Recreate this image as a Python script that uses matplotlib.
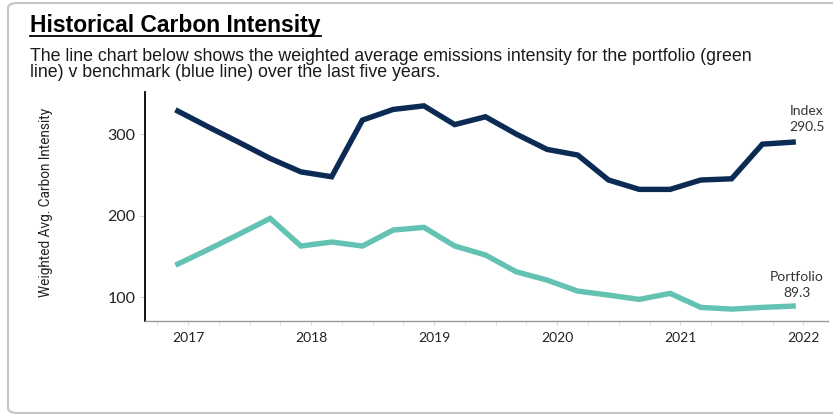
import numpy as np
import matplotlib
matplotlib.use('Agg')
from matplotlib import pyplot as plt
from matplotlib.patches import FancyBboxPatch

# 분기별 데이터 (2016년 12월 ~ 2021년 12월)
quarters = ['2016-12', '2017-03', '2017-06', '2017-09', '2017-12',
            '2018-03', '2018-06', '2018-09', '2018-12', '2019-03',
            '2019-06', '2019-09', '2019-12', '2020-03', '2020-06',
            '2020-09', '2020-12', '2021-03', '2021-06', '2021-09',
            '2021-12']
index_vals = [328.6, 309.0, 290.0, 270.5, 254.0, 248.0, 317.5, 330.6,
              335.0, 312.0, 321.6, 300.4, 281.6, 274.6, 244.0, 232.5,
              232.5, 244.0, 245.5, 288.0, 290.5]
portfolio_vals = [140.9, 158.9, 177.7, 196.9, 163.0, 167.9, 163.0, 182.6,
                  185.9, 163.0, 152.0, 131.4, 121.2, 107.7, 102.8, 97.5,
                  104.9, 87.7, 85.6, 87.7, 89.3]
year_ticks = [2017, 2018, 2019, 2020, 2021, 2022]
y_ticks = [100, 200, 300]

title = 'Historical Carbon Intensity'
subtitle = ('The line chart below shows the weighted average emissions intensity for the portfolio (green\n'
            'line) v benchmark (blue line) over the last five years.')


def to_year(s):
    y, m = s.split('-')
    return int(y) + (int(m) - 1) / 12


x = np.array([to_year(q) for q in quarters])

fig = plt.figure(figsize=(8.33, 4.16), dpi=100)
renderer = fig.canvas.get_renderer()

# 테두리 박스
box = FancyBboxPatch((8 / 833, 3 / 416), 1.0, 410 / 416,
                     boxstyle='round,pad=0,rounding_size=0.012',
                     transform=fig.transFigure, facecolor='white',
                     edgecolor='#c4c4c4', linewidth=1.5, clip_on=False, zorder=-10)
fig.patches.append(box)

t = fig.text(30 / 833, 1 - 32 / 416, title, fontsize=16.5, fontweight='bold',
             family='Liberation Sans', color='black', va='baseline')
bb = t.get_window_extent(renderer)
fig.add_artist(plt.Line2D([30 / 833, bb.x1 / 833], [1 - 35.5 / 416, 1 - 35.5 / 416],
                          color='black', lw=1.3, transform=fig.transFigure))

# 부제목: 두 줄 간격을 약 14.7px로 맞춤
sub_size = 12.8
sub = fig.text(30 / 833, 1 - 76.7 / 416, subtitle, fontsize=sub_size,
               family='Liberation Sans', color='#1a1a1a', va='baseline', linespacing=1.0)
h2 = sub.get_window_extent(renderer).height
one = fig.text(0, 0, subtitle.split('\n')[0], fontsize=sub_size, family='Liberation Sans')
h1 = one.get_window_extent(renderer).height
one.remove()
sub.set_linespacing(14.8 / (h2 - h1))

ax = fig.add_axes([145 / 833, 1 - 321 / 416, (828 - 145) / 833, (321 - 92) / 416])
ax.patch.set_alpha(0)
ax.plot(x, index_vals, color='#0c2b54', lw=3.9, solid_joinstyle='miter')
ax.plot(x, portfolio_vals, color='#63c2b2', lw=3.9, solid_joinstyle='miter')

ax.set_xlim(2016.65, 2022.2)
ax.set_ylim(71, 352)
ax.set_xticks(year_ticks)
ax.set_xticks(np.arange(2016.75, 2022.2, 0.25), minor=True)
ax.set_yticks(y_ticks)
ax.tick_params(axis='x', which='both', length=3, color='#d8d8d8', pad=5,
               labelsize=10, labelcolor='#222222')
ax.tick_params(axis='y', length=4, color='#d8d8d8', pad=3, labelsize=11.5,
               labelcolor='#222222')
for lab in ax.get_xticklabels() + ax.get_yticklabels():
    lab.set_family('Lato')

for s in ['top', 'right']:
    ax.spines[s].set_visible(False)
ax.spines['left'].set_color('black')
ax.spines['left'].set_linewidth(1.3)
ax.spines['bottom'].set_color('#999999')
ax.spines['bottom'].set_linewidth(1.0)

ax.set_ylabel('Weighted Avg. Carbon Intensity', fontsize=9.8,
              family=['Roboto', 'DejaVu Sans'], color='#222222')
ax.yaxis.set_label_coords(-(145 - 53) / 683, 0.52)

ax.text(x[-1] + 0.11, index_vals[-1] + 11, 'Index\n290.5', ha='center', va='bottom',
        fontsize=10, family='Lato', color='#333333', linespacing=1.45)
ax.text(x[-1] + 0.03, portfolio_vals[-1] + 8.5, 'Portfolio\n89.3', ha='center', va='bottom',
        fontsize=10, family='Lato', color='#333333', linespacing=1.45)

fig.savefig('out.png', dpi=100)
